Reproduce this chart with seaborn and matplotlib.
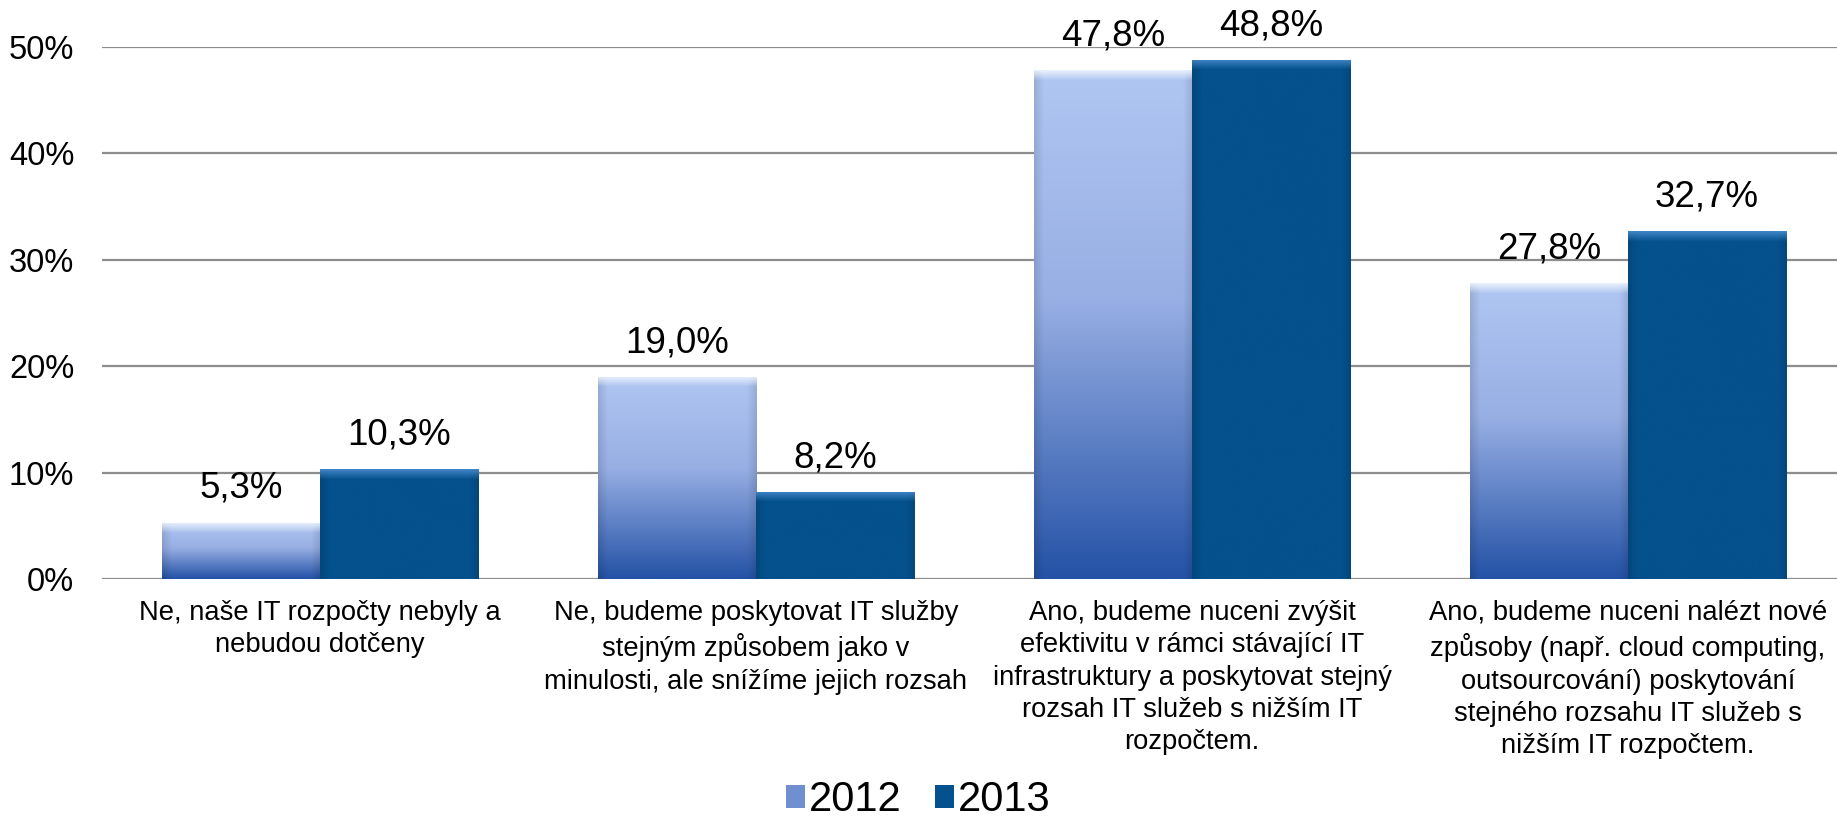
import numpy as np
import pandas as pd
import matplotlib
matplotlib.use('Agg')
import matplotlib.pyplot as plt
import seaborn as sns
from matplotlib.patches import Patch
from matplotlib.ticker import FuncFormatter
from matplotlib.colors import to_rgb

# --- data ---
categories = [
    "Ne, naše IT rozpočty nebyly a\nnebudou dotčeny",
    "Ne, budeme poskytovat IT služby\nstejným způsobem jako v\nminulosti, ale snížíme jejich rozsah",
    "Ano, budeme nuceni zvýšit\nefektivitu v rámci stávající IT\ninfrastruktury a poskytovat stejný\nrozsah IT služeb s nižším IT\nrozpočtem.",
    "Ano, budeme nuceni nalézt nové\nzpůsoby (např. cloud computing,\noutsourcování) poskytování\nstejného rozsahu IT služeb s\nnižším IT rozpočtem.",
]
years = ["2012", "2013"]
values_2012 = [5.3, 19.0, 47.8, 27.8]
values_2013 = [10.3, 8.2, 48.8, 32.7]
y_ticks = [0, 10, 20, 30, 40, 50]

# --- styl ---
LIGHT_TOP = '#b0c6f2'
LIGHT_BOTTOM = '#2452a6'
DARK = '#04518d'
GRID = '#8c8c8c'

sns.set_theme(style='white')
plt.rcParams['font.family'] = ['Liberation Sans', 'DejaVu Sans']

df = pd.DataFrame({
    'kategorie': categories * 2,
    'rok': [years[0]] * len(categories) + [years[1]] * len(categories),
    'hodnota': values_2012 + values_2013,
})

W, H = 1837, 821
fig = plt.figure(figsize=(W / 100, H / 100), dpi=100)
ax = fig.add_axes([102 / W, 1 - 579 / H, 1744 / W, 532 / H])

sns.barplot(data=df, x='kategorie', y='hodnota', hue='rok', hue_order=years,
            palette=[LIGHT_BOTTOM, DARK], width=0.725, ax=ax, legend=False,
            edgecolor='none', linewidth=0, zorder=2)

ax.set_xlim(-0.5, 3.5)
ax.set_ylim(0, 50)

# gradient + zkosena horni hrana (jako v Excelu)
px_per_unit = 532 / 50.0


def bar_image(patch, kind):
    x0, y0 = patch.get_x(), patch.get_y()
    w, h = patch.get_width(), patch.get_height()
    hpx = max(int(h * px_per_unit), 2)
    wpx = 160
    t = np.linspace(0, 1, hpx)[:, None]  # 0 = nahore
    if kind == 0:
        c_top = np.array(to_rgb(LIGHT_TOP))
        c_mid = np.array(to_rgb('#98afe4'))
        c_bot = np.array(to_rgb(LIGHT_BOTTOM))
        col = np.where(t < 0.45,
                       c_top + (c_mid - c_top) * (t / 0.45),
                       c_mid + (c_bot - c_mid) * ((t - 0.45) / 0.55))
    else:
        col = np.tile(np.array(to_rgb(DARK)), (hpx, 1))
    img = np.repeat(col[:, None, :], wpx, axis=1)
    # okraje tmavsi
    edge = np.linspace(0, 1, wpx)
    shade = 1 - 0.12 * (np.clip(1 - edge / 0.06, 0, 1) + np.clip((edge - 0.94) / 0.06, 0, 1))
    img = img * shade[None, :, None]
    # horni zkoseni
    bevel = min(10, hpx // 3)
    hl = np.array([0.95, 0.97, 1.0]) if kind == 0 else np.array(to_rgb('#4a8ed0'))
    for r in range(bevel):
        a = 1 - r / bevel
        img[r] = img[r] * (1 - 0.85 * a) + hl * 0.85 * a
    im = ax.imshow(np.clip(img, 0, 1), extent=[x0, x0 + w, y0, y0 + h], aspect='auto',
                   origin='upper', zorder=3, interpolation='bilinear')
    im.set_clip_path(patch)


for kind, cont in enumerate(ax.containers):
    for p in cont:
        bar_image(p, kind)

ax.set_xlim(-0.5, 3.5)
ax.set_ylim(0, 50)

# popisky hodnot
for cont, vals in zip(ax.containers, [values_2012, values_2013]):
    labels = [f"{v:.1f}".replace('.', ',') + '%' for v in vals]
    ax.bar_label(cont, labels=labels, padding=12, fontsize=26.5, color='black', zorder=5)

# osy
ax.set_yticks(y_ticks)
ax.yaxis.set_major_formatter(FuncFormatter(lambda v, _: f"{v:.0f}%"))
ax.grid(axis='y', color=GRID, linewidth=1.6, zorder=0)
ax.set_axisbelow(True)
for s in ax.spines.values():
    s.set_visible(False)
ax.tick_params(axis='y', length=0, pad=20, labelsize=23.5, labelcolor='black')
ax.tick_params(axis='x', length=0, pad=15, labelsize=19.7, labelcolor='black')
ax.set_xlabel('')
ax.set_ylabel('')
ax.set_xticks(range(len(categories)))
ax.set_xticklabels(categories, linespacing=1.32)

handles = [Patch(facecolor='#6f8fd0', edgecolor='none'),
           Patch(facecolor=DARK, edgecolor='none')]
fig.legend(handles, years, loc='lower center', bbox_to_anchor=(0.5, -0.045), ncol=2,
           frameon=False, fontsize=30, handlelength=0.45, handleheight=0.45,
           handletextpad=0.1, columnspacing=0.8, labelcolor='black')

fig.savefig('out.png', dpi=100)
